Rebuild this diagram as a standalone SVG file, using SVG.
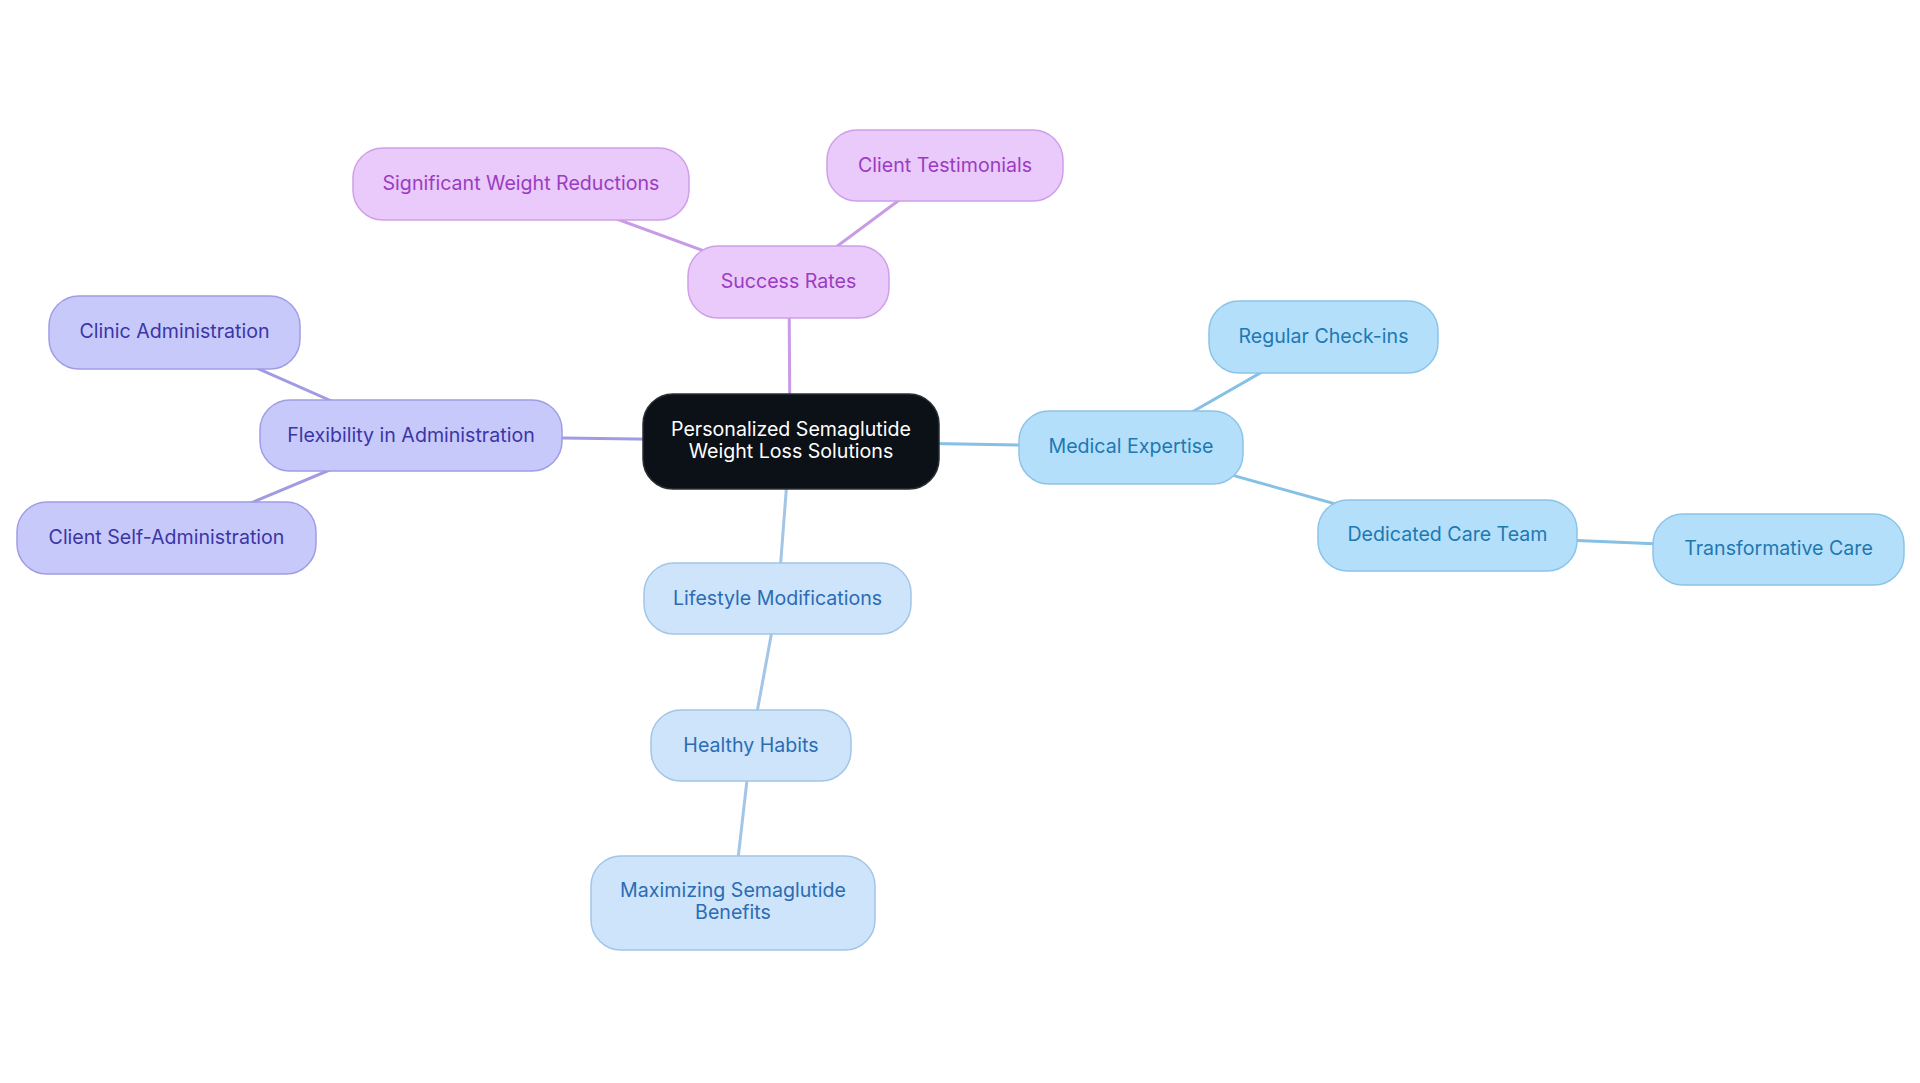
<svg xmlns="http://www.w3.org/2000/svg" width="1920" height="1083" viewBox="0 0 1920 1083">
<style>
text{font-family:Inter,"Noto Sans","Liberation Sans",sans-serif;font-size:19.6px;text-anchor:middle;dominant-baseline:central}
.root rect{fill:#0c1117;stroke:#2a2f36;stroke-width:1.5}
.root text{fill:#ffffff}
.pk rect{fill:#eac9fb;stroke:#cf9fe8;stroke-width:1.5}
.pk text{fill:#9a3cc2}
.lv rect{fill:#c8c9fb;stroke:#a09ce6;stroke-width:1.5}
.lv text{fill:#3b36a6}
.bl rect{fill:#b3dffb;stroke:#8cc4e8;stroke-width:1.5}
.bl text{fill:#1f78b0}
.pb rect{fill:#cde4fb;stroke:#a2c5e8;stroke-width:1.5}
.pb text{fill:#2b6cb3}
#edges line{stroke-width:3;stroke-linecap:round}
.e-pk{stroke:#c89be6}
.e-lv{stroke:#a09be2}
.e-bl{stroke:#86c0e4}
.e-pb{stroke:#a3c5e6}
</style>
<rect width="1920" height="1083" fill="#ffffff"/>
<g id="edges">
<line class="e-pk" x1="790" y1="441" x2="789" y2="282"/>
<line class="e-pk" x1="789" y1="282" x2="521" y2="184"/>
<line class="e-pk" x1="789" y1="282" x2="945" y2="166"/>
<line class="e-lv" x1="790" y1="441" x2="411" y2="436"/>
<line class="e-lv" x1="411" y1="436" x2="175" y2="332"/>
<line class="e-lv" x1="411" y1="436" x2="167" y2="538"/>
<line class="e-bl" x1="790" y1="441" x2="1131" y2="447"/>
<line class="e-bl" x1="1131" y1="447" x2="1323" y2="337"/>
<line class="e-bl" x1="1131" y1="447" x2="1447" y2="535"/>
<line class="e-bl" x1="1447" y1="535" x2="1778" y2="549"/>
<line class="e-pb" x1="790" y1="441" x2="778" y2="598"/>
<line class="e-pb" x1="778" y1="598" x2="751" y2="745"/>
<line class="e-pb" x1="751" y1="745" x2="733" y2="903"/>
</g>
<g id="root" class="root">
<rect x="643" y="394" width="296" height="95" rx="30"/>
<text x="791" y="429">Personalized Semaglutide</text>
<text x="791" y="451">Weight Loss Solutions</text>
</g>
<g id="success-rates" class="pk">
<rect x="688" y="246" width="201" height="72" rx="30"/>
<text x="788.5" y="281">Success Rates</text>
</g>
<g id="significant-weight-reductions" class="pk">
<rect x="353" y="148" width="336" height="72" rx="30"/>
<text x="521" y="183">Significant Weight Reductions</text>
</g>
<g id="client-testimonials" class="pk">
<rect x="827" y="130" width="236" height="71" rx="30"/>
<text x="945" y="164.5">Client Testimonials</text>
</g>
<g id="flexibility" class="lv">
<rect x="260" y="400" width="302" height="71" rx="30"/>
<text x="411" y="434.5">Flexibility in Administration</text>
</g>
<g id="clinic-administration" class="lv">
<rect x="49" y="296" width="251" height="73" rx="30"/>
<text x="174.5" y="331">Clinic Administration</text>
</g>
<g id="client-self-administration" class="lv">
<rect x="17" y="502" width="299" height="72" rx="30"/>
<text x="166.5" y="536.5">Client Self-Administration</text>
</g>
<g id="medical-expertise" class="bl">
<rect x="1019" y="411" width="224" height="73" rx="30"/>
<text x="1131" y="446">Medical Expertise</text>
</g>
<g id="regular-check-ins" class="bl">
<rect x="1209" y="301" width="229" height="72" rx="30"/>
<text x="1323.5" y="335.5">Regular Check-ins</text>
</g>
<g id="dedicated-care-team" class="bl">
<rect x="1318" y="500" width="259" height="71" rx="30"/>
<text x="1447.5" y="534">Dedicated Care Team</text>
</g>
<g id="transformative-care" class="bl">
<rect x="1653" y="514" width="251" height="71" rx="30"/>
<text x="1778.5" y="548">Transformative Care</text>
</g>
<g id="lifestyle-modifications" class="pb">
<rect x="644" y="563" width="267" height="71" rx="30"/>
<text x="777.5" y="597.5">Lifestyle Modifications</text>
</g>
<g id="healthy-habits" class="pb">
<rect x="651" y="710" width="200" height="71" rx="30"/>
<text x="751" y="744.5">Healthy Habits</text>
</g>
<g id="maximizing-benefits" class="pb">
<rect x="591" y="856" width="284" height="94" rx="30"/>
<text x="733" y="890">Maximizing Semaglutide</text>
<text x="733" y="912">Benefits</text>
</g>
</svg>
